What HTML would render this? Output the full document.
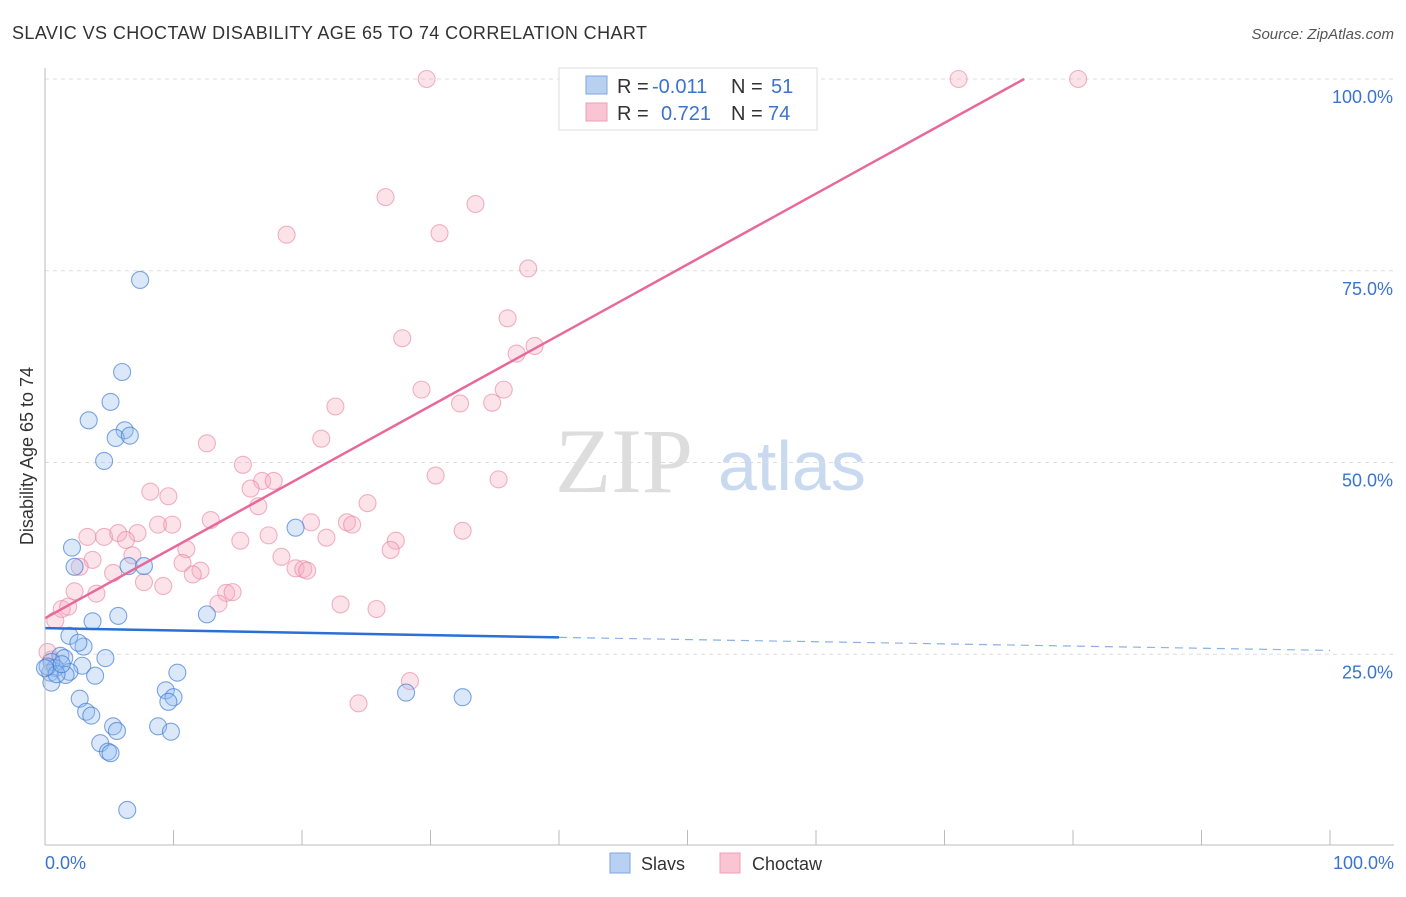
<!DOCTYPE html>
<html><head><meta charset="utf-8">
<style>
body{margin:0;background:#fff;width:1406px;height:892px;overflow:hidden;font-family:"Liberation Sans",sans-serif;}
</style></head><body>
<svg id="c" width="1406" height="892" xmlns="http://www.w3.org/2000/svg">
<text x="12" y="39" font-size="18" fill="#333" textLength="635">SLAVIC VS CHOCTAW DISABILITY AGE 65 TO 74 CORRELATION CHART</text>
<text x="1394" y="39" font-size="15" fill="#555" font-style="italic" text-anchor="end">Source: ZipAtlas.com</text>
<text x="555" y="492" font-size="92" fill="#ddd" font-family="Liberation Serif,serif">ZIP</text>
<text x="718" y="490" font-size="70" fill="#c9d9f0">atlas</text>
<text transform="translate(33,456) rotate(-90)" font-size="18" fill="#333" text-anchor="middle">Disability Age 65 to 74</text>
<g id="grid"></g><g id="pts"></g><g id="lines"></g>
<line x1="45" y1="68" x2="45" y2="845" stroke="#bbb"/>
<line x1="45" y1="845" x2="1394" y2="845" stroke="#bbb"/>
<text x="45" y="869" font-size="18" fill="#3b73d1">0.0%</text>
<text x="1394" y="869" font-size="18" fill="#3b73d1" text-anchor="end">100.0%</text>
<g>
<rect x="559" y="68" width="258" height="62" fill="#fff" stroke="#ddd"/>
<rect x="586" y="76" width="21" height="18" fill="#b8d0f2" stroke="#7fa6e0"/>
<rect x="586" y="103" width="21" height="18" fill="#f9c5d4" stroke="#eea0b6"/>
<text x="617" y="93" font-size="20" fill="#333">R = <tspan x="652" fill="#3b73d1">-0.011</tspan><tspan x="731">N = </tspan><tspan x="771" fill="#3b73d1">51</tspan></text>
<text x="617" y="120" font-size="20" fill="#333">R = <tspan x="661" fill="#3b73d1">0.721</tspan><tspan x="731">N = </tspan><tspan x="768" fill="#3b73d1">74</tspan></text>
</g>
<g>
<rect x="610" y="853" width="20" height="20" fill="#b8d0f2" stroke="#7fa6e0"/>
<text x="641" y="870" font-size="18" fill="#333">Slavs</text>
<rect x="720" y="853" width="20" height="20" fill="#f9c5d4" stroke="#eea0b6"/>
<text x="752" y="870" font-size="18" fill="#333">Choctaw</text>
</g>
</svg>
<script>
const yTicks=[25,50,75,100];
const xTicks=[10,20,30,40,50,60,70,80,90,100];
const slavsX=[7.4,6,5.1,3.4,6.2,5.5,6.6,4.6,2.1,2.3,6.5,7.7,19.5,3.7,5.7,12.6,1.9,3,2.6,4.7,1.2,1.5,0.5,0.8,2.9,1.9,0.4,1.6,3.9,0.5,10.3,2.7,9.4,10.0,9.6,3.2,3.6,5.3,5.6,8.8,9.8,4.3,4.9,5.1,6.4,28.1,32.5,0.2,0.9,1.3,0];
const slavsY=[73.8,61.8,57.9,55.5,54.2,53.2,53.5,50.2,38.9,36.4,36.5,36.5,41.5,29.3,30,30.2,27.4,26,26.5,24.5,24.8,24.5,24,23.2,23.5,22.7,22.6,22.3,22.2,21.3,22.6,19.2,20.3,19.4,18.8,17.5,17,15.6,15,15.6,14.9,13.4,12.3,12.1,4.7,20,19.4,23.4,22.4,23.7,23.2];
const choctawX=[29.7,71.1,80.4,26.5,33.5,18.8,30.7,37.6,36,27.8,38.1,36.7,29.3,35.7,32.3,34.8,22.6,12.6,21.5,15.4,30.4,35.3,16.9,17.8,8.2,16.0,9.6,25.1,8.8,9.9,12.9,20.7,16.6,23.5,23.9,32.5,3.3,4.6,5.7,7.2,6.3,17.4,21.9,15.2,11,6.8,27.3,26.9,18.4,10.7,3.7,12.1,19.5,20.1,20.4,11.5,2.7,5.3,7.7,9.2,2.3,4.0,14.1,14.6,13.5,1.3,1.8,23,25.8,0.8,28.4,24.4,0.2,0.5];
const choctawY=[100,100,100,84.6,83.7,79.7,79.9,75.3,68.8,66.2,65.2,64.2,59.5,59.5,57.7,57.8,57.3,52.5,53.1,49.7,48.3,47.8,47.6,47.6,46.2,46.6,45.6,44.7,41.9,41.9,42.5,42.2,44.3,42.2,41.9,41.1,40.3,40.3,40.8,40.8,39.9,40.5,40.2,39.8,38.7,37.9,39.8,38.6,37.7,36.9,37.3,35.9,36.2,36.1,35.9,35.4,36.4,35.6,34.4,33.9,33.2,32.9,33,33.1,31.6,30.9,31.2,31.5,30.9,29.4,21.5,18.6,25.3,24.3];
const slavLine=[[0,28.4],[40,27.2],[100,25.5]];
const choctawLine=[[0,29.7],[76.2,100]];
const X=v=>45+v*12.85, Y=v=>846-v*7.67;
const ns="http://www.w3.org/2000/svg";
function mk(t,a,p){const e=document.createElementNS(ns,t);for(const k in a)e.setAttribute(k,a[k]);p.appendChild(e);return e;}
const g=document.getElementById('grid'),P=document.getElementById('pts'),L=document.getElementById('lines'),svg=document.getElementById('c');
yTicks.forEach(v=>{
 const l=mk('line',{x1:45,x2:1394,y1:Y(v),y2:Y(v),stroke:'#ddd','stroke-dasharray':'4,4'},g);
 
 
 const t=mk('text',{x:1393,y:Y(v)+24,'font-size':18,fill:'#3b73d1','text-anchor':'end'},svg);
 t.textContent=v.toFixed(1)+'%';
 
 
});
xTicks.forEach(v=>{
 const l=mk('line',{x1:X(v),x2:X(v),y1:830,y2:845,stroke:'#bbb'},g);
 
 
});
choctawX.forEach((x,i)=>{
 const c=mk('circle',{cx:X(x),cy:Y(choctawY[i]),r:8.5,fill:'rgba(246,170,192,0.33)',stroke:'rgba(232,130,160,0.6)','stroke-width':1.1},P);
 
 
});
slavsX.forEach((x,i)=>{
 const c=mk('circle',{cx:X(x),cy:Y(slavsY[i]),r:8.5,fill:'rgba(150,190,240,0.35)',stroke:'rgba(60,120,210,0.65)','stroke-width':1.1},P);
 
 
});
let a=mk('line',{x1:X(slavLine[0][0]),y1:Y(slavLine[0][1]),x2:X(slavLine[1][0]),y2:Y(slavLine[1][1]),stroke:'#2a6fd6','stroke-width':2.5},L);


a=mk('line',{x1:X(slavLine[1][0]),y1:Y(slavLine[1][1]),x2:X(slavLine[2][0]),y2:Y(slavLine[2][1]),stroke:'#8ab0e6','stroke-width':1.2,'stroke-dasharray':'8,6'},L);


a=mk('line',{x1:X(choctawLine[0][0]),y1:Y(choctawLine[0][1]),x2:X(choctawLine[1][0]),y2:Y(choctawLine[1][1]),stroke:'#e8689a','stroke-width':2.5},L);


</script>
</body></html>
